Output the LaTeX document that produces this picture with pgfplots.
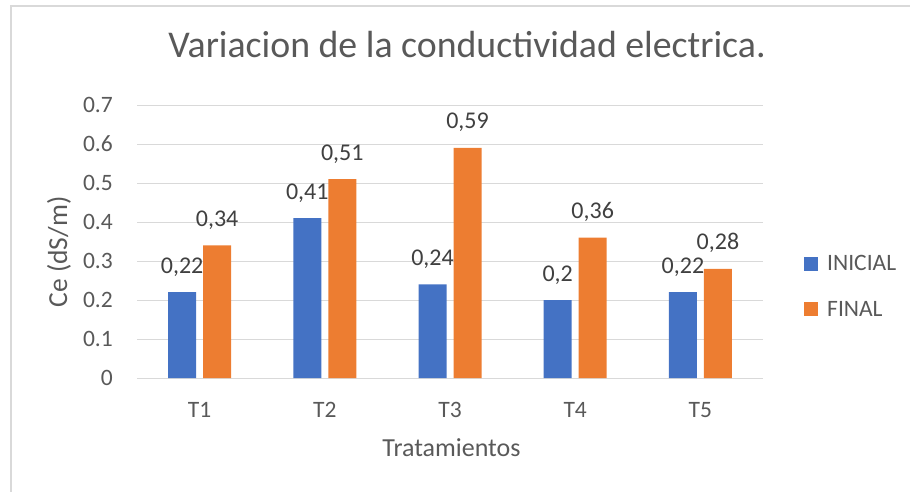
\documentclass[border=0pt]{standalone}
\usepackage{pgfplots}
\pgfplotsset{compat=1.18}
\usepackage{fontspec}
\setmainfont{Carlito}
\definecolor{cblue}{HTML}{4472C4}
\definecolor{corange}{HTML}{ED7D31}
\definecolor{txt}{HTML}{595959}
\definecolor{lbl}{HTML}{404040}
\definecolor{gridc}{HTML}{D9D9D9}
\begin{document}
\begin{tikzpicture}[x=1pt,y=1pt]
\useasboundingbox (0,0) rectangle (910,491);
\draw[gridc, line width=1.5pt] (11,-5) -- (11,485) -- (915,485);
\begin{axis}[
  at={(137pt,113pt)}, anchor=south west,
  scale only axis, width=626pt, height=273pt,
  xmin=-0.5, xmax=4.5, ymin=0, ymax=0.7,
  ybar=7pt, bar width=28pt,
  xtick={0,1,2,3,4}, xticklabels={T1,T2,T3,T4,T5},
  ytick={0,0.1,0.2,0.3,0.4,0.5,0.6,0.7},
  yticklabels={0,0.1,0.2,0.3,0.4,0.5,0.6,0.7},
  ymajorgrids, major grid style={gridc, line width=1pt},
  axis line style={draw=none},
  major tick length=0pt,
  /pgf/number format/assume math mode=true,
  tick label style={font=\fontsize{23.5}{27}\selectfont, text=txt},
  yticklabel style={anchor=east, inner sep=0pt, xshift=-24pt},
  xticklabel style={anchor=north, inner sep=0pt, yshift=-24pt},
  clip=false,
  nodes near coords={\pgfmathprintnumber[fixed,precision=2,use comma]{\pgfplotspointmeta}},
  nodes near coords style={anchor=base, inner sep=0pt, yshift=19pt, font=\fontsize{24}{28}\selectfont, text=lbl},
  legend style={at={(1.0655,0.335)}, anchor=west, draw=none, fill=none, inner sep=0pt,
    font=\fontsize{23.5}{27}\selectfont, text=txt, row sep=25pt,
    /tikz/every odd column/.append style={column sep=7pt}},
  legend cell align=left,
  legend image code/.code={\fill[#1] (0pt,-7pt) rectangle (14pt,7pt);},
]
\addplot[fill=cblue, draw=none]
  coordinates {(0,0.22) (1,0.41) (2,0.24) (3,0.2) (4,0.22)};
\addlegendentry{INICIAL}
\addplot[fill=corange, draw=none]
  coordinates {(0,0.34) (1,0.51) (2,0.59) (3,0.36) (4,0.28)};
\addlegendentry{FINAL}
\end{axis}
\node[anchor=base, text=txt, font=\fontsize{37.8}{42}\selectfont, inner sep=0pt] at (467,433) {Variacion de la conductividad electrica.};
\node[anchor=base, text=txt, font=\fontsize{26}{30}\selectfont, inner sep=0pt] at (451.5,35) {Tratamientos};
\node[anchor=base, rotate=90, text=txt, font=\fontsize{27.5}{31}\selectfont, inner sep=0pt] at (67,239) {Ce (dS/m)};
\end{tikzpicture}
\end{document}
